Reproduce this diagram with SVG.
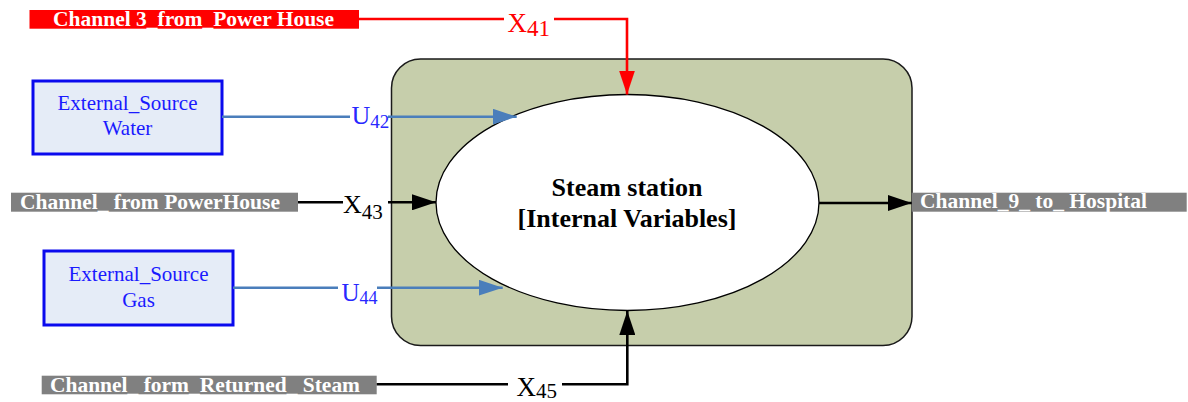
<svg xmlns="http://www.w3.org/2000/svg" width="1188" height="402" viewBox="0 0 1188 402">
<style>
.lbl{font-family:"Liberation Serif","Times New Roman",serif;font-weight:bold;fill:#ffffff;font-size:21px}
.src{font-family:"Liberation Serif","Times New Roman",serif;fill:#1a1aff;font-size:21px;text-anchor:middle}
.srcbox{fill:#e5ecf7;stroke:#0a0aee;stroke-width:3}
.var{font-family:"Liberation Serif","Times New Roman",serif}
.conn{fill:none;stroke-width:2.6}
.bg{fill:#ffffff}
</style>
<defs>
<marker id="ab" markerUnits="userSpaceOnUse" markerWidth="24" markerHeight="16" refX="24" refY="8" orient="auto"><path d="M0,0 L24,8 L0,16 z" fill="#000000"/></marker>
<marker id="ar" markerUnits="userSpaceOnUse" markerWidth="24" markerHeight="16" refX="24" refY="8" orient="auto"><path d="M0,0 L24,8 L0,16 z" fill="#ff0000"/></marker>
<marker id="au" markerUnits="userSpaceOnUse" markerWidth="24" markerHeight="16" refX="24" refY="8" orient="auto"><path d="M0,0 L24,8 L0,16 z" fill="#4a7ebb"/></marker>
</defs>
<rect width="1188" height="402" fill="#ffffff"/>

<g id="steam-station">
<rect x="391.5" y="59" width="520.5" height="286.5" rx="29" ry="29" fill="#c6ceab" stroke="#1a1a1a" stroke-width="1.5"/>
<ellipse cx="627.5" cy="202.5" rx="191.5" ry="108" fill="#ffffff" stroke="#000000" stroke-width="1.3"/>
<text x="627" y="196" text-anchor="middle" font-family="'Liberation Serif','Times New Roman',serif" font-weight="bold" font-size="26">Steam station</text>
<text x="627" y="227" text-anchor="middle" font-family="'Liberation Serif','Times New Roman',serif" font-weight="bold" font-size="26">[Internal Variables]</text>
</g>

<g id="channel3">
<rect x="29.5" y="10" width="329.5" height="18.7" fill="#ff0000"/>
<text class="lbl" x="53" y="26" textLength="281" lengthAdjust="spacingAndGlyphs">Channel 3_from_Power House</text>
</g>

<g id="water">
<rect class="srcbox" x="33" y="81" width="189" height="73"/>
<text class="src" x="127.5" y="110">External_Source</text>
<text class="src" x="127.5" y="135">Water</text>
</g>

<g id="channel-powerhouse">
<rect x="11" y="192.7" width="287" height="19" fill="#808080"/>
<text class="lbl" x="20" y="209" textLength="260" lengthAdjust="spacingAndGlyphs">Channel_ from PowerHouse</text>
</g>

<g id="gas">
<rect class="srcbox" x="44" y="251" width="189" height="74"/>
<text class="src" x="138.5" y="280.7">External_Source</text>
<text class="src" x="138.5" y="306.7">Gas</text>
</g>

<g id="returned-steam">
<rect x="41.7" y="375.7" width="335" height="18.6" fill="#808080"/>
<text class="lbl" x="50" y="391.7" textLength="310" lengthAdjust="spacingAndGlyphs">Channel_ form_Returned_ Steam</text>
</g>

<g id="hospital">
<rect x="911.7" y="192.7" width="275" height="19" fill="#808080"/>
<text class="lbl" x="920" y="208" font-size="20" textLength="227" lengthAdjust="spacingAndGlyphs">Channel_9_ to_ Hospital</text>
</g>

<g id="connectors">
<path class="conn" d="M359,19 H627 V94.5" stroke="#ff0000" marker-end="url(#ar)"/>
<path class="conn" d="M222,116.7 H516.7" stroke="#4a7ebb" stroke-width="3" marker-end="url(#au)"/>
<path class="conn" d="M298,202.3 H436" stroke="#000000" marker-end="url(#ab)"/>
<path class="conn" d="M233,287.7 H502.7" stroke="#4a7ebb" stroke-width="3" marker-end="url(#au)"/>
<path class="conn" d="M376.7,384.3 H627.3 V311" stroke="#000000" marker-end="url(#ab)"/>
<path class="conn" d="M819,203 H911.7" stroke="#000000" marker-end="url(#ab)"/>
</g>

<g id="labels">
<rect class="bg" x="504" y="9" width="50" height="29"/>
<text class="var" x="507.5" y="32" fill="#ff0000" font-size="27">X<tspan font-size="23" dy="4">41</tspan></text>
<rect class="bg" x="350" y="104" width="38" height="26"/>
<text class="var" x="351.5" y="124" fill="#2828ff" font-size="26">U<tspan font-size="19" dy="4">42</tspan></text>
<rect class="bg" x="343" y="191" width="45" height="30"/>
<text class="var" x="343" y="213.3" fill="#000000" font-size="26">X<tspan font-size="21" dy="5.5">43</tspan></text>
<rect class="bg" x="338" y="278" width="39" height="26"/>
<text class="var" x="341.5" y="300.7" fill="#2828ff" font-size="25">U<tspan font-size="18" dy="3.5">44</tspan></text>
<rect class="bg" x="508" y="376" width="54" height="26"/>
<text class="var" x="516.5" y="395.5" fill="#000000" font-size="27">X<tspan font-size="21" dy="2">45</tspan></text>
</g>
</svg>
